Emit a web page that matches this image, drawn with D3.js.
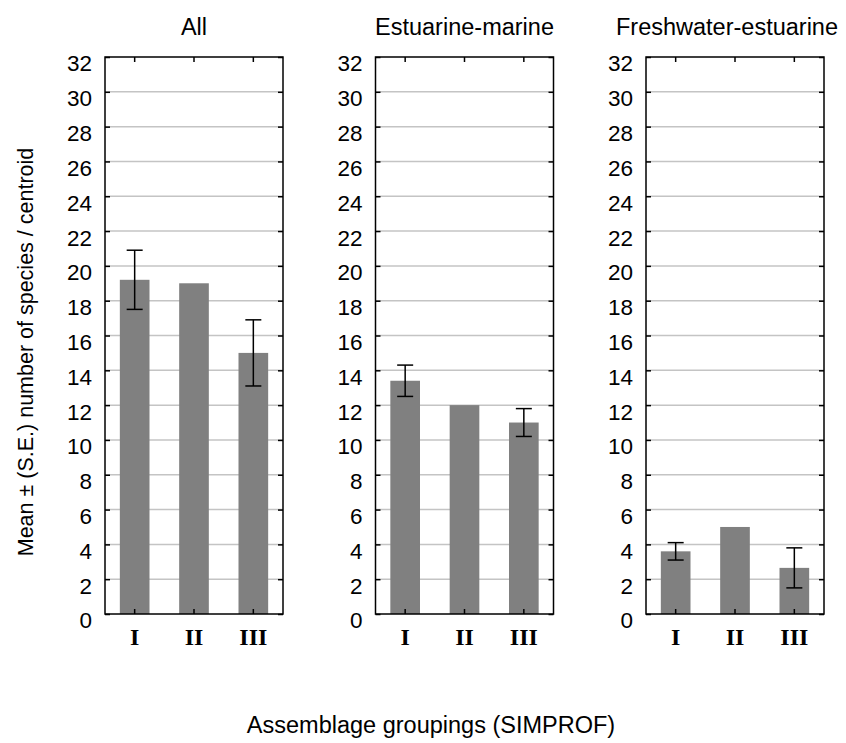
<!DOCTYPE html>
<html>
<head>
<meta charset="utf-8">
<script src="https://cdn.jsdelivr.net/npm/d3@7"></script>
<style>
  body { margin: 0; background: #fff; }
  svg { display: block; }
</style>
</head>
<body>
<svg id="chart"></svg>
<script>
// chart values
var panelTitles = ["All", "Estuarine-marine", "Freshwater-estuarine"];
var groups = ["I", "II", "III"];
var meanAll = [19.2, 19.0, 15.0];
var seAll = [1.7, 0, 1.9];
var meanEstMarine = [13.4, 12.0, 11.0];
var seEstMarine = [0.9, 0, 0.8];
var meanFreshEst = [3.6, 5.0, 2.65];
var seFreshEst = [0.5, 0, 1.15];
var yTicks = d3.range(0, 33, 2);

var means = [meanAll, meanEstMarine, meanFreshEst];
var ses = [seAll, seEstMarine, seFreshEst];

var svgWidth = 846, svgHeight = 743;
var panelW = 178, plotTop = 57, plotBottom = 614;

var svg = d3.select('#chart')
    .attr('width', svgWidth)
    .attr('height', svgHeight)
    .style('font-family', 'Liberation Sans, Arial, sans-serif');

// where each panel sits across the page
var panelX = d3.scalePoint().domain(panelTitles).range([105, 646]);

var y = d3.scaleLinear().domain([0, 32]).range([plotBottom, plotTop]);
var x = d3.scaleBand().domain(groups).range([0, panelW]);

function inwardTicks(a) {
    a.select('.domain').remove();
    a.selectAll('line').attr('stroke-width', 1.5);
}

panelTitles.forEach(function(title, i) {
    var g = svg.append('g')
        .attr('transform', 'translate(' + panelX(title) + ',0)');

    // gridlines
    g.selectAll('.grid')
        .data(yTicks.filter(function(t) { return t > 0 && t < 32; }))
        .enter().append('line')
        .attr('x1', 0).attr('x2', panelW)
        .attr('y1', function(d) { return y(d); })
        .attr('y2', function(d) { return y(d); })
        .attr('stroke', '#c4c4c4')
        .attr('stroke-width', 1.5);

    var rows = groups.map(function(gr, j) {
        return { group: gr, mean: means[i][j], se: ses[i][j] };
    });

    // bars
    g.selectAll('.bar')
        .data(rows)
        .enter().append('rect')
        .attr('x', function(d) { return x(d.group) + x.bandwidth() / 4; })
        .attr('width', x.bandwidth() / 2)
        .attr('y', function(d) { return y(d.mean); })
        .attr('height', function(d) { return y(0) - y(d.mean); })
        .attr('fill', '#808080');

    // error bars
    var err = g.selectAll('.err')
        .data(rows.filter(function(d) { return d.se > 0; }))
        .enter().append('g')
        .attr('stroke', '#000')
        .attr('stroke-width', 1.5);
    err.append('line')
        .attr('x1', function(d) { return x(d.group) + x.bandwidth() / 2; })
        .attr('x2', function(d) { return x(d.group) + x.bandwidth() / 2; })
        .attr('y1', function(d) { return y(d.mean - d.se); })
        .attr('y2', function(d) { return y(d.mean + d.se); });
    [-1, 1].forEach(function(s) {
        err.append('line')
            .attr('x1', function(d) { return x(d.group) + x.bandwidth() / 2 - 8; })
            .attr('x2', function(d) { return x(d.group) + x.bandwidth() / 2 + 8; })
            .attr('y1', function(d) { return y(d.mean + s * d.se); })
            .attr('y2', function(d) { return y(d.mean + s * d.se); });
    });

    // y axis labels + inward ticks on both sides
    var ya = g.append('g').call(d3.axisLeft(y).tickValues(yTicks).tickSize(0).tickPadding(13));
    ya.select('.domain').remove();
    ya.selectAll('text')
        .attr('dy', '0.62em')
        .style('font-size', '22.5px')
        .style('font-family', 'Liberation Sans, Arial, sans-serif')
        .attr('fill', '#000');

    g.append('g').call(d3.axisRight(y).tickValues(yTicks).tickSize(5).tickFormat('')).call(inwardTicks);
    g.append('g').attr('transform', 'translate(' + panelW + ',0)')
        .call(d3.axisLeft(y).tickValues(yTicks).tickSize(5).tickFormat('')).call(inwardTicks);

    // x ticks inward at top and bottom, roman numeral labels
    g.append('g').attr('transform', 'translate(0,' + plotBottom + ')')
        .call(d3.axisTop(x).tickSize(5).tickFormat('')).call(inwardTicks);
    g.append('g').attr('transform', 'translate(0,' + plotTop + ')')
        .call(d3.axisBottom(x).tickSize(5).tickFormat('')).call(inwardTicks);

    g.selectAll('.cat')
        .data(groups)
        .enter().append('text')
        .attr('x', function(d) { return x(d) + x.bandwidth() / 2; })
        .attr('y', 645)
        .attr('text-anchor', 'middle')
        .style('font-family', 'Liberation Serif, Times New Roman, serif')
        .style('font-weight', 'bold')
        .style('font-size', '24px')
        .text(function(d) { return d; });

    // frame
    g.append('rect')
        .attr('x', 0).attr('y', plotTop)
        .attr('width', panelW).attr('height', plotBottom - plotTop)
        .attr('fill', 'none')
        .attr('stroke', '#000')
        .attr('stroke-width', 1.5);

    // title, kept inside the page
    var t = g.append('text')
        .attr('y', 35)
        .attr('text-anchor', 'middle')
        .style('font-size', '23.5px')
        .text(title);
    var tw = t.node().getComputedTextLength();
    var cx = Math.min(panelW / 2, svgWidth - 8 - panelX(title) - tw / 2);
    t.attr('x', cx);
});

svg.append('text')
    .attr('transform', 'translate(33,352) rotate(-90)')
    .attr('text-anchor', 'middle')
    .style('font-size', '21.5px')
    .text('Mean \u00b1 (S.E.) number of species / centroid');

svg.append('text')
    .attr('x', 431)
    .attr('y', 733)
    .attr('text-anchor', 'middle')
    .style('font-size', '23.5px')
    .text('Assemblage groupings (SIMPROF)');
</script>
</body>
</html>
